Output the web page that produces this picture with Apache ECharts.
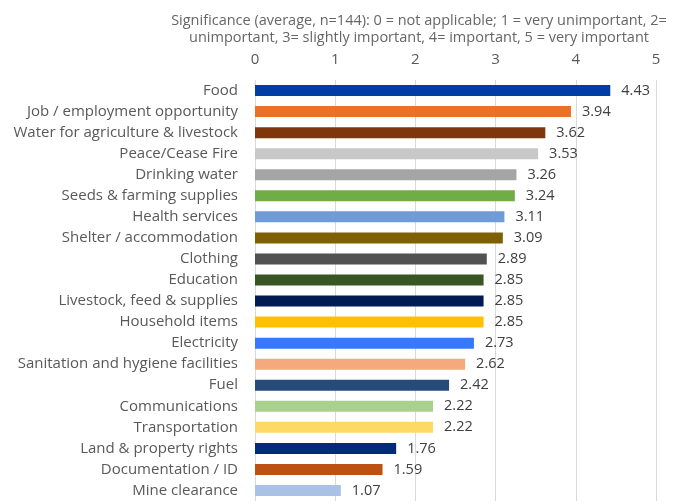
<!DOCTYPE html>
<html>
<head>
<meta charset="utf-8">
<script src="https://cdn.jsdelivr.net/npm/echarts@6/dist/echarts.min.js"></script>
<style>
  html, body { margin: 0; padding: 0; background: #fff; }
  #chart { width: 691px; height: 504px; }
</style>
</head>
<body>
<div id="chart"></div>
<script>
// Categories (top to bottom) and their average significance
const categories = [
  'Food', 'Job / employment opportunity', 'Water for agriculture & livestock',
  'Peace/Cease Fire', 'Drinking water', 'Seeds & farming supplies',
  'Health services', 'Shelter / accommodation', 'Clothing', 'Education',
  'Livestock, feed & supplies', 'Household items', 'Electricity',
  'Sanitation and hygiene facilities', 'Fuel', 'Communications',
  'Transportation', 'Land & property rights', 'Documentation / ID', 'Mine clearance'
];
const values = [4.43, 3.94, 3.62, 3.53, 3.26, 3.24, 3.11, 3.09, 2.89, 2.85,
  2.85, 2.85, 2.73, 2.62, 2.42, 2.22, 2.22, 1.76, 1.59, 1.07];
const barColors = [
  '#003da5', '#eb7128', '#7f360b', '#c8c8c8', '#a5a5a5', '#70ad47',
  '#6f9bd6', '#7f6000', '#525252', '#375623', '#001c52', '#ffc000',
  '#337aff', '#f4aa7d', '#264a7a', '#a9d18e', '#ffd966', '#002a7c',
  '#bc5113', '#a8c1e4'
];
const axisTicks = [0, 1, 2, 3, 4, 5];

const titleText = 'Significance (average, n=144): 0 = not applicable; 1 = very unimportant, 2=\n' +
  'unimportant, 3= slightly important, 4= important, 5 = very important';

const chart = echarts.init(document.getElementById('chart'));

const option = {
  backgroundColor: '#fff',
  textStyle: {fontFamily: 'Open Sans'},
  title: {
    text: titleText,
    left: 414,
    top: 7,
    textAlign: 'center',
    textStyle: {
      color: '#666666',
      fontSize: 14.5,
      fontWeight: 'normal',
      lineHeight: 17,
      fontFamily: 'Open Sans'
    }
  },
  grid: {
    left: 255,
    right: 35,
    top: 80,
    bottom: 3,
    containLabel: false
  },
  xAxis: {
    type: 'value',
    position: 'top',
    min: axisTicks[0],
    max: axisTicks[axisTicks.length - 1],
    interval: 1,
    axisLine: {show: false},
    axisTick: {show: false},
    axisLabel: {
      color: '#595959',
      fontSize: 15,
      margin: 13
    },
    splitLine: {
      lineStyle: {color: '#d9d9d9', width: 1}
    }
  },
  yAxis: {
    type: 'category',
    data: categories,
    inverse: true,
    axisLine: {show: false},
    axisTick: {show: false},
    axisLabel: {
      color: '#595959',
      fontSize: 15,
      margin: 17
    }
  },
  series: [{
    type: 'bar',
    data: values.map((v, i) => ({value: v, itemStyle: {color: barColors[i]}})),
    barWidth: 11,
    label: {
      show: true,
      position: 'right',
      distance: 11,
      color: '#404040',
      fontSize: 14.5,
      formatter: p => p.value.toFixed(2)
    }
  }]
};

chart.setOption(option);
</script>
</body>
</html>
